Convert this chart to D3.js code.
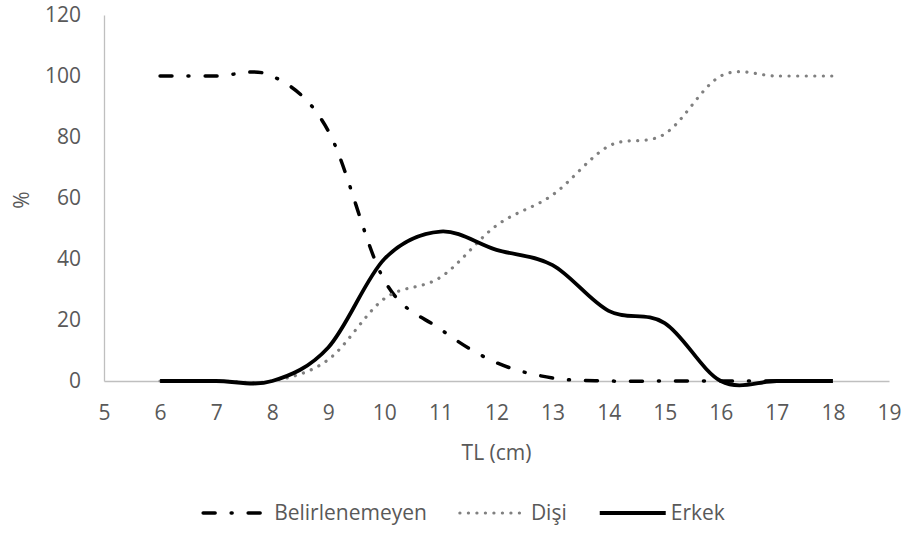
<!DOCTYPE html>
<html>
<head>
<meta charset="utf-8">
<script src="https://cdn.jsdelivr.net/npm/d3@7"></script>
<style>
  body { margin: 0; background: #fff; }
  text { font-family: "Open Sans", "Liberation Sans", sans-serif; fill: #595959; }
</style>
</head>
<body>
<div id="chart"></div>
<script>
// boy sınıfları (TL, cm)
const boySiniflari = [6, 7, 8, 9, 10, 11, 12, 13, 14, 15, 16, 17, 18];

// yüzde değerleri
const belirlenemeyen = [100, 100, 100, 82, 33, 17, 6, 1, 0, 0, 0, 0, 0];
const disi = [0, 0, 0, 7, 27, 34, 51, 61, 77, 81, 100, 100, 100];
const erkek = [0, 0, 0, 11, 40, 49, 43, 38, 23, 19, 0, 0, 0];

const xTicks = d3.range(5, 20);
const yTicks = [0, 20, 40, 60, 80, 100, 120];

const seriler = [
  { ad: "Belirlenemeyen", degerler: belirlenemeyen, renk: "#000", kalinlik: 3.5, dash: "12,16,1,16", cap: "round" },
  { ad: "Dişi", degerler: disi, renk: "#808080", kalinlik: 3.2, dash: "0.1,8.4", cap: "round" },
  { ad: "Erkek", degerler: erkek, renk: "#000", kalinlik: 3.8, dash: null, cap: "butt" }
];

const W = 908, H = 543, FS = 21;
const svg = d3.select("#chart").append("svg")
  .attr("width", W).attr("height", H);

const x = d3.scaleLinear().domain([5, 19]).range([104, 889]);
const y = d3.scaleLinear().domain([0, 120]).range([381, 15]);

// eksenler
const yAxis = svg.append("g")
  .attr("transform", `translate(${x(5)},0)`)
  .call(d3.axisLeft(y).tickValues(yTicks).tickSize(0).tickPadding(23));
const xAxis = svg.append("g")
  .attr("transform", `translate(0,${y(0)})`)
  .call(d3.axisBottom(x).tickValues(xTicks).tickSize(0).tickPadding(24));

[xAxis, yAxis].forEach(g => {
  g.select(".domain").attr("stroke", "#bfbfbf").attr("stroke-width", 1.3);
  g.selectAll("text").attr("font-size", FS).attr("fill", "#595959")
    .style("font-family", '"Open Sans", sans-serif');
});

// eksen başlıkları
svg.append("text")
  .attr("x", (x(5) + x(19)) / 2)
  .attr("y", 460)
  .attr("text-anchor", "middle")
  .attr("font-size", FS)
  .text("TL (cm)");

svg.append("text")
  .attr("transform", "translate(29,200) rotate(-90)")
  .attr("text-anchor", "middle")
  .attr("font-size", FS)
  .text("%");

// çizgiler
const line = d3.line()
  .x((d, i) => x(boySiniflari[i]))
  .y(d => y(d))
  .curve(d3.curveCardinal.tension(0));

seriler.forEach(s => {
  svg.append("path")
    .datum(s.degerler)
    .attr("d", line)
    .attr("fill", "none")
    .attr("stroke", s.renk)
    .attr("stroke-width", s.kalinlik)
    .attr("stroke-dasharray", s.dash)
    .attr("stroke-linecap", s.cap);
});

// lejant
const legend = svg.append("g");
const ornekUz = 66, bosluk = 5, araBosluk = 33, legendY = 513;
let cx = 0;
seriler.forEach(s => {
  const g = legend.append("g");
  g.append("line")
    .attr("x1", 0).attr("x2", ornekUz)
    .attr("y1", 0).attr("y2", 0)
    .attr("stroke", s.renk)
    .attr("stroke-width", s.kalinlik)
    .attr("stroke-dasharray", s.dash)
    .attr("stroke-linecap", s.cap);
  const t = g.append("text")
    .attr("x", ornekUz + bosluk)
    .attr("dy", "0.35em")
    .attr("font-size", FS)
    .text(s.ad);
  const w = ornekUz + bosluk + t.node().getComputedTextLength();
  g.attr("transform", `translate(${cx},0)`);
  cx += w + araBosluk;
});
const toplam = cx - araBosluk;
legend.attr("transform", `translate(${464 - toplam / 2},${legendY})`);
</script>
</body>
</html>
